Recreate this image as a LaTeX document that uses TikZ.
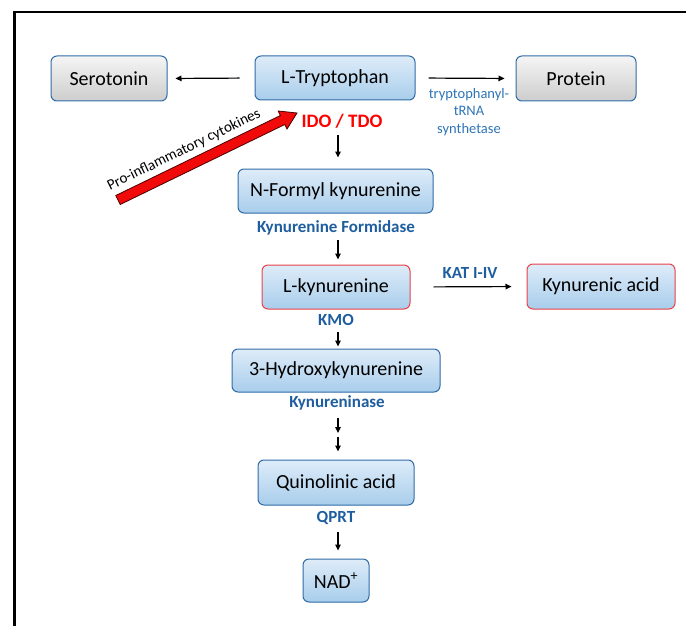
\documentclass[tikz,border=0pt]{standalone}
\usepackage{fontspec}
\setmainfont{Carlito}
\usetikzlibrary{arrows.meta}
\definecolor{bbord}{HTML}{2F6BA6}
\definecolor{rbord}{HTML}{E8414A}
\definecolor{btop}{HTML}{DEECF9}
\definecolor{bbot}{HTML}{A8CDEB}
\definecolor{gtop}{HTML}{F5F5F5}
\definecolor{gbot}{HTML}{CDCDCD}
\definecolor{enz}{HTML}{1F5E9E}
\definecolor{enzl}{HTML}{2E75B6}
\definecolor{infl}{HTML}{F00A0A}
\tikzset{
 box/.style={rounded corners=6pt, draw=bbord, line width=1pt, top color=btop, bottom color=bbot,
   font=\fontsize{20}{22}\selectfont, inner sep=0pt, anchor=center},
 gbox/.style={box, top color=gtop, bottom color=gbot},
 rbox/.style={box, draw=rbord},
 enzyme/.style={font=\bfseries\fontsize{17}{19}\selectfont, text=enz, inner sep=1pt, text height=12pt, text depth=4pt},
 arr/.style={-{Triangle[length=6pt,width=5.5pt]}, line width=1.2pt},
}
\begin{document}
\begin{tikzpicture}[x=1pt,y=-1pt]
\useasboundingbox (0,0) rectangle (686,626);
\draw[line width=2.5pt] (14.5,626) -- (14.5,12) -- (686,12);

% boxes
\node[gbox, minimum width=116pt, minimum height=45pt] (sero) at (109,78.5) {Serotonin};
\node[box, minimum width=160pt, minimum height=44pt] (ltrp) at (335,78) {L-Tryptophan};
\node[gbox, minimum width=120pt, minimum height=45pt] (prot) at (576,78.5) {Protein};
\node[box, minimum width=195pt, minimum height=44pt] (nfk) at (335.5,191) {N-Formyl kynurenine};
\node[rbox, minimum width=148pt, minimum height=44pt] (lkyn) at (336,287) {L-kynurenine};
\node[rbox, minimum width=148pt, minimum height=45pt] (kacid) at (601,286.5) {Kynurenic acid};
\node[box, minimum width=208pt, minimum height=43pt] (hk) at (336,370.5) {3-Hydroxykynurenine};
\node[box, minimum width=156pt, minimum height=45pt] (quin) at (336,482.5) {Quinolinic acid};
\node[box, minimum width=66pt, minimum height=43pt] (nad) at (336,580.5) {NAD\textsuperscript{+}};

% enzyme labels
\node[enzyme, font=\bfseries\fontsize{19}{21}\selectfont, text=red, text height=13pt] (ido) at (342,123) {IDO / TDO};
\node[enzyme] (kf) at (336,228) {Kynurenine Formidase};
\node[enzyme] (kat) at (470,274) {KAT I-IV};
\node[enzyme] (kmo) at (336,321) {KMO};
\node[enzyme] (kase) at (337,403) {Kynureninase};
\node[enzyme] (qprt) at (336,518) {QPRT};
\node[align=center, text=enzl, font=\fontsize{14.5}{17.5}\selectfont, inner sep=0pt] (trs) at (469,112) {tryptophanyl-\\tRNA\\synthetase};

% connectors
\draw[arr, shorten <=15pt, shorten >=8pt] (ltrp.west) -- (sero.east);
\draw[arr, shorten <=13pt, shorten >=11pt] (ltrp.east) -- (prot.west);
\draw[arr, shorten <=2.5pt, shorten >=11pt] (338,0 |- ido.south) -- (338,0 |- nfk.north);
\draw[arr, shorten <=3pt, shorten >=5pt] (338,0 |- kf.south) -- (338,0 |- lkyn.north);
\draw[arr, shorten <=23pt, shorten >=15pt] (lkyn.east) -- (kacid.west);
\draw[arr, shorten <=2pt, shorten >=2pt] (338,0 |- kmo.south) -- (338,0 |- hk.north);
\coordinate (mid) at (338,435);
\draw[arr, shorten <=6pt, shorten >=2pt] (338,0 |- kase.south) -- (mid);
\draw[arr, shorten <=2pt, shorten >=8pt] (mid) -- (338,0 |- quin.north);
\draw[arr, shorten <=5pt, shorten >=8pt] (338,0 |- qprt.south) -- (338,0 |- nad.north);

% pro-inflammatory block arrow
\draw[fill=infl, draw=black!70!red, line width=0.8pt, line join=miter]
  (115.8,195.5) -- (280.4,115.5) -- (278.2,111.0) -- (297,113) -- (287.0,129.0) -- (284.8,124.5) -- (120.2,204.5) -- cycle;
\node[rotate=26, font=\fontsize{15}{17}\selectfont, inner sep=0pt] (cyto) at (184,150) {Pro-inflammatory cytokines};
\end{tikzpicture}
\end{document}
